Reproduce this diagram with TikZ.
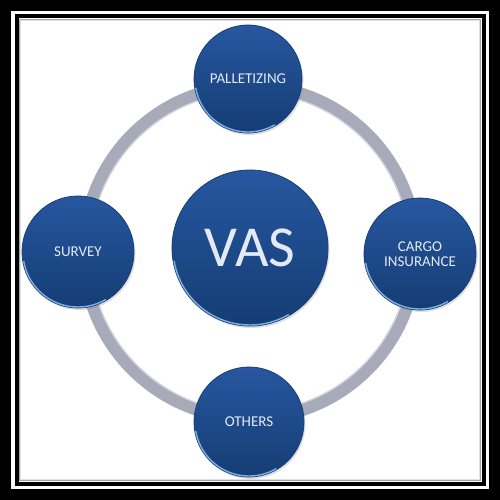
\documentclass[tikz,border=0pt]{standalone}
\usepackage{fontspec}
\setmainfont{Carlito}
\usetikzlibrary{shadows,calc}
\definecolor{bluetop}{HTML}{2757A0}
\definecolor{bluebot}{HTML}{153D74}
\definecolor{blueedge}{HTML}{173F78}
\definecolor{bluehi}{HTML}{7FAEE0}
\definecolor{ringgray}{HTML}{A7AAB9}
\definecolor{ringhi}{HTML}{D2D4DE}
\definecolor{labelcol}{HTML}{E3EAF5}
\tikzset{
  bubble/.style={circle, top color=bluetop, bottom color=bluebot, draw=blueedge,
    line width=0.8, text=labelcol, align=center, inner sep=0pt,
    drop shadow={opacity=0.25, shadow xshift=1.5pt, shadow yshift=-2pt}},
  sat/.style={bubble, font=\fontsize{15}{15}\selectfont},
  hub/.style={bubble, font=\fontsize{58}{60}\selectfont},
  rim/.style={bluehi, line width=1.4, line cap=round}
}
\begin{document}
\begin{tikzpicture}[x=1pt,y=-1pt]
\useasboundingbox (0,0) rectangle (500,500);
% frame
\fill[black] (0,0) rectangle (500,500);
\fill[white] (11,11) rectangle (489,489);
\fill[black] (14.5,14.5) rectangle (485.5,485.5);
\fill[white] (18.5,18.5) rectangle (481.5,481.5);
\draw[black!35, line width=1.2] (19.5,19.5) rectangle (480.5,480.5);
\draw[black!12, line width=1] (20.8,20.8) rectangle (479.2,479.2);
% ring
\coordinate (c) at (250,252);
\draw[ringgray, line width=13] (c) circle (166);
\draw[ringhi, line width=1.2] (c) circle (160);
% nodes
\node[hub, minimum size=156] (vas) at (250,248) {VAS};
\node[sat, minimum size=108] (pal) at (248,79) {PALLETIZING};
\node[sat, minimum size=112] (cargo) at (420,254) {CARGO\\INSURANCE};
\node[sat, minimum size=110] (oth) at (249,422) {OTHERS};
\node[sat, minimum size=112] (sur) at (78,252) {SURVEY};
% rim highlights
\foreach \n/\r in {vas/77, pal/53, cargo/55, oth/54, sur/55}{
  \draw[rim] ($(\n.center)+(60:\r)$) arc[start angle=60, end angle=170, radius=\r];
}
\end{tikzpicture}
\end{document}
